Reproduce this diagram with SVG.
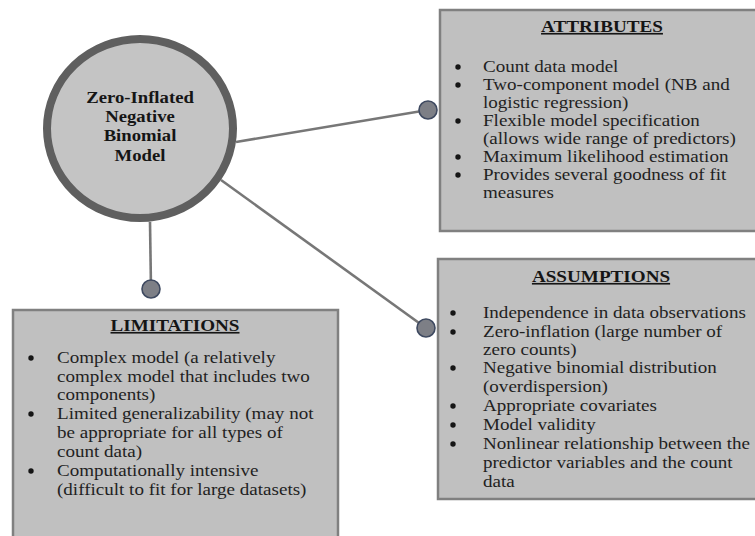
<svg xmlns="http://www.w3.org/2000/svg" width="755" height="536" viewBox="0 0 755 536">
<style>
.box{fill:#c0c0c0;stroke:#808080;stroke-width:2.5}
.ring{fill:#c4c4c4;stroke:#5f5f5f;stroke-width:8}
.conn{stroke:#777;stroke-width:2.6;fill:none}
.dot{fill:#7d7f86;stroke:#3e4960;stroke-width:1.6}
.t{font-family:"Liberation Serif","Times New Roman",serif;font-size:16.5px;fill:#1f1f1f}
.h{font-family:"Liberation Serif","Times New Roman",serif;font-size:16.5px;font-weight:bold;fill:#151515;text-decoration:underline;text-anchor:middle}
.c{font-family:"Liberation Serif","Times New Roman",serif;font-size:17px;font-weight:bold;fill:#151515;text-anchor:middle}
.b{fill:#151515}
</style>
<rect width="755" height="536" fill="#ffffff"/>
<g id="connectors">
<line class="conn" x1="236" y1="142" x2="428" y2="110"/>
<line class="conn" x1="221" y1="180" x2="426" y2="328"/>
<line class="conn" x1="150" y1="222" x2="151" y2="289"/>
<circle class="dot" cx="428" cy="110" r="9"/>
<circle class="dot" cx="426" cy="328" r="9"/>
<circle class="dot" cx="151" cy="289" r="9"/>
</g>
<g id="center">
<ellipse class="ring" cx="140" cy="128.5" rx="93" ry="89.5"/>
<g transform="translate(140,0) scale(1.1,1)">
<text class="c" x="0" y="103">Zero-Inflated</text>
<text class="c" x="0" y="122">Negative</text>
<text class="c" x="0" y="141.5">Binomial</text>
<text class="c" x="0" y="161">Model</text>
</g>
</g>
<g id="attributes">
<rect class="box" x="440" y="10" width="330" height="221"/>
<g transform="translate(602,0) scale(1.16,1)"><text class="h" x="0" y="32">ATTRIBUTES</text></g>
<circle class="b" cx="458" cy="67" r="2.7"/>
<circle class="b" cx="458" cy="85" r="2.7"/>
<circle class="b" cx="458" cy="121" r="2.7"/>
<circle class="b" cx="458" cy="157" r="2.7"/>
<circle class="b" cx="458" cy="175" r="2.7"/>
<g transform="translate(483,0) scale(1.155,1)">
<text class="t" x="0" y="72">Count data model</text>
<text class="t" x="0" y="90">Two-component model (NB and</text>
<text class="t" x="0" y="108">logistic regression)</text>
<text class="t" x="0" y="126">Flexible model specification</text>
<text class="t" x="0" y="144">(allows wide range of predictors)</text>
<text class="t" x="0" y="162">Maximum likelihood estimation</text>
<text class="t" x="0" y="180">Provides several goodness of fit</text>
<text class="t" x="0" y="198">measures</text>
</g>
</g>
<g id="assumptions">
<rect class="box" x="438" y="259" width="330" height="240"/>
<g transform="translate(601,0) scale(1.16,1)"><text class="h" x="0" y="282">ASSUMPTIONS</text></g>
<circle class="b" cx="453" cy="313" r="2.7"/>
<circle class="b" cx="453" cy="332" r="2.7"/>
<circle class="b" cx="453" cy="368" r="2.7"/>
<circle class="b" cx="453" cy="406" r="2.7"/>
<circle class="b" cx="453" cy="425" r="2.7"/>
<circle class="b" cx="453" cy="444" r="2.7"/>
<g transform="translate(483,0) scale(1.155,1)">
<text class="t" x="0" y="318">Independence in data observations</text>
<text class="t" x="0" y="337">Zero-inflation (large number of</text>
<text class="t" x="0" y="355">zero counts)</text>
<text class="t" x="0" y="373">Negative binomial distribution</text>
<text class="t" x="0" y="392">(overdispersion)</text>
<text class="t" x="0" y="411">Appropriate covariates</text>
<text class="t" x="0" y="430">Model validity</text>
<text class="t" x="0" y="449">Nonlinear relationship between the</text>
<text class="t" x="0" y="468">predictor variables and the count</text>
<text class="t" x="0" y="487">data</text>
</g>
</g>
<g id="limitations">
<rect class="box" x="13" y="310" width="325" height="240"/>
<g transform="translate(175,0) scale(1.16,1)"><text class="h" x="0" y="331">LIMITATIONS</text></g>
<circle class="b" cx="31" cy="358" r="2.7"/>
<circle class="b" cx="31" cy="414" r="2.7"/>
<circle class="b" cx="31" cy="471" r="2.7"/>
<g transform="translate(57,0) scale(1.155,1)">
<text class="t" x="0" y="363">Complex model (a relatively</text>
<text class="t" x="0" y="382">complex model that includes two</text>
<text class="t" x="0" y="400">components)</text>
<text class="t" x="0" y="419">Limited generalizability (may not</text>
<text class="t" x="0" y="438">be appropriate for all types of</text>
<text class="t" x="0" y="457">count data)</text>
<text class="t" x="0" y="476">Computationally intensive</text>
<text class="t" x="0" y="495">(difficult to fit for large datasets)</text>
</g>
</g>
</svg>
